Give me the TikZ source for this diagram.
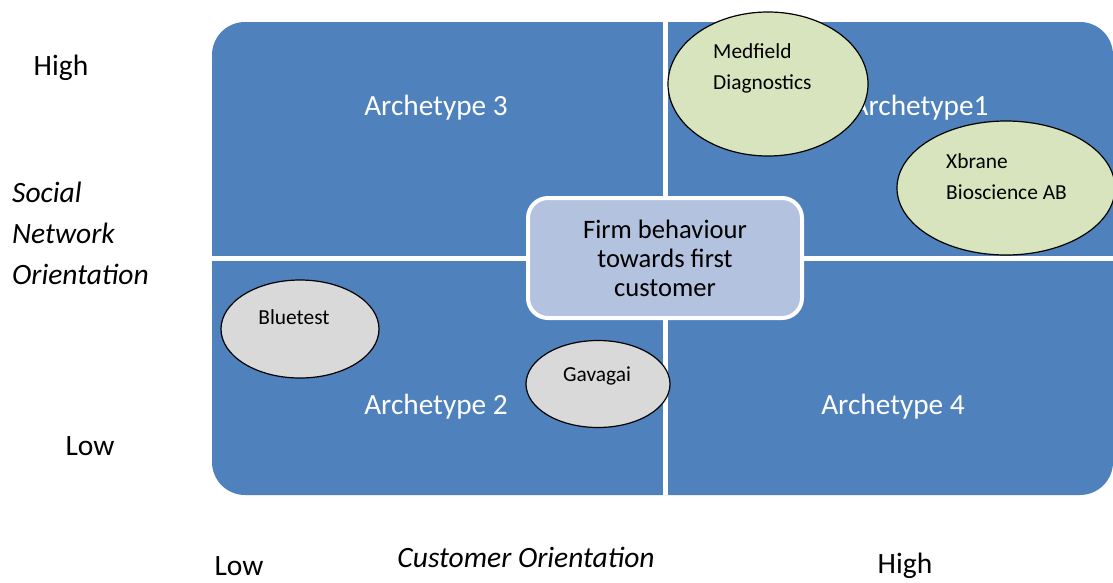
\documentclass[tikz,border=0pt]{standalone}
\usepackage{fontspec}
\setmainfont{Carlito}
\usetikzlibrary{shapes.geometric}

\definecolor{quadblue}{HTML}{4F81BD}
\definecolor{centreblue}{HTML}{B3C2DE}
\definecolor{firmgreen}{HTML}{D7E4BD}
\definecolor{firmgrey}{HTML}{D9D9D9}

\begin{document}
\begin{tikzpicture}[
x=1pt,y=-1pt,
axis/.style={
font=\fontsize{29.5}{41}\selectfont,
align=left,
inner sep=0pt
},
archetype/.style={
text=white,
font=\fontsize{29.3}{32}\selectfont
},
firm/.style={
draw=black,
line width=1.2pt,
ellipse,
inner sep=0pt
},
firmname/.style={
font=\fontsize{21.4}{31}\selectfont,
align=left,
anchor=west,
inner sep=0pt
}
]
\useasboundingbox (0,0) rectangle (1113,582);

% quadrants
\fill[quadblue, rounded corners=33pt] (212,22) rectangle (1113,495);
\draw[white, line width=5pt] (665,22) -- (665,495);
\draw[white, line width=5pt] (212,258.5) -- (1113,258.5);

\node[archetype] (a3) at (436,108) {Archetype 3};
\node[archetype] (a1) at (920,108) {Archetype1};
\node[archetype] (a2) at (436,407) {Archetype 2};
\node[archetype] (a4) at (893,407) {Archetype 4};

% centre box
\node[
draw=white,
line width=4pt,
fill=centreblue,
rounded corners=20pt,
minimum width=274pt,
minimum height=120pt,
align=center,
font=\fontsize{26.6}{29}\selectfont
] (centre) at (665,258)
{Firm behaviour\\towards first\\customer};

% firms
\node[firm, fill=firmgreen, minimum width=200pt, minimum height=144pt]
(medfield) at (768,84) {};
\node[firmname] (medfieldtxt) at (713,68.5) {Medfield\\Diagnostics};

\node[firm, fill=firmgreen, minimum width=218pt, minimum height=134pt]
(xbrane) at (1006,188) {};
\node[firmname] (xbranetxt) at (946,176.5) {Xbrane\\Bioscience AB};

\node[firm, fill=firmgrey, minimum width=158pt, minimum height=98pt]
(bluetest) at (300,329) {};
\node[firmname, anchor=center] (bluetesttxt) at (294,317) {Bluetest};

\node[firm, fill=firmgrey, minimum width=144pt, minimum height=87pt]
(gavagai) at (598,384) {};
\node[firmname, anchor=center] (gavagaitxt) at (597,376) {Gavagai};

% axes
\node[axis] (yhigh) at (61,68) {High};
\node[axis] (ylow) at (90,446) {Low};
\node[axis, anchor=west, font=\fontsize{29.5}{41}\selectfont\itshape] (ytitle) at (12,233)
{Social\\Network\\Orientation};

\node[axis] (xlow) at (239,566) {Low};
\node[axis, font=\fontsize{29.5}{41}\selectfont\itshape] (xtitle) at (526,557) {Customer Orientation};
\node[axis] (xhigh) at (905,566) {High};

\end{tikzpicture}
\end{document}
